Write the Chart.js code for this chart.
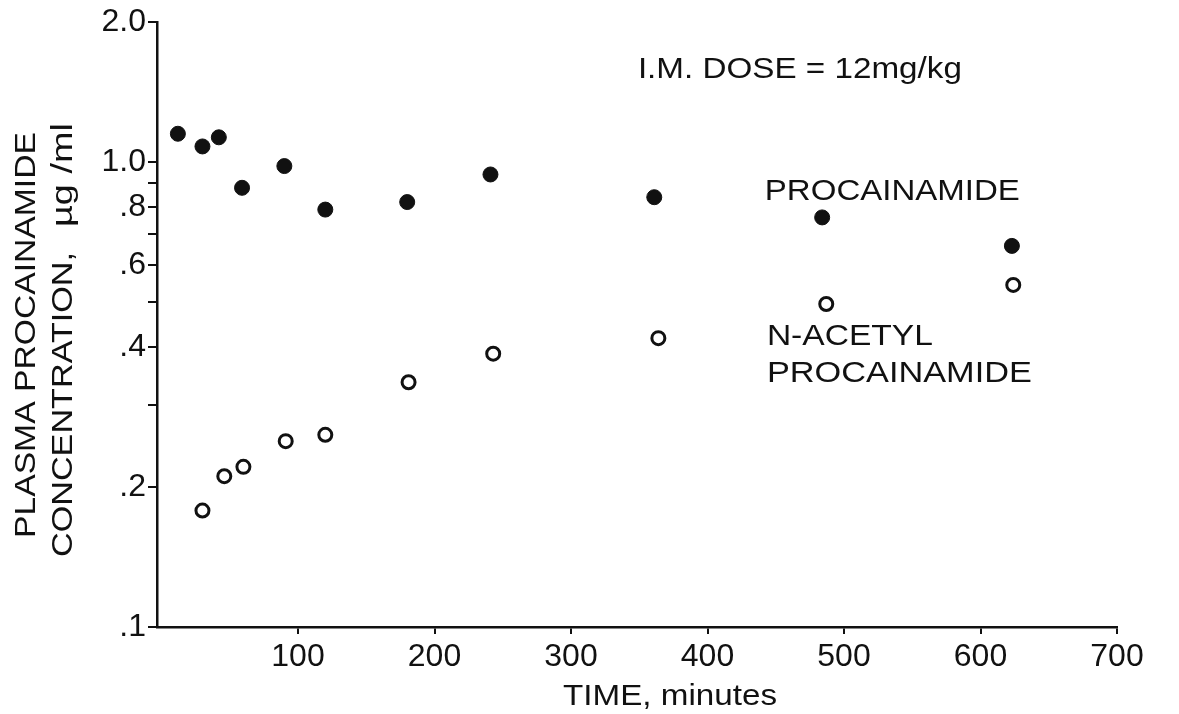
<!DOCTYPE html>
<html>
<head>
<meta charset="utf-8">
<script src="https://cdn.jsdelivr.net/npm/chart.js@4"></script>
<style>
  body { margin: 0; background: #fff; }
  #wrap { width: 1179px; height: 714px; }
</style>
</head>
<body>
<div id="wrap"><canvas id="pkChart" width="1179" height="714"></canvas></div>
<script>
// values (time in minutes, concentration in ug/ml)
const timesPA = [12, 30, 42, 59, 90, 120, 180, 241, 361, 484, 623];
const concPA = [1.15, 1.08, 1.13, 0.88, 0.98, 0.79, 0.82, 0.94, 0.84, 0.76, 0.66];
const timesNAPA = [30, 46, 60, 91, 120, 181, 243, 364, 487, 624];
const concNAPA = [0.178, 0.211, 0.221, 0.251, 0.259, 0.336, 0.387, 0.418, 0.495, 0.544];

const xTickValues = [100, 200, 300, 400, 500, 600, 700];
const yTickValues = [0.1, 0.2, 0.3, 0.4, 0.5, 0.6, 0.7, 0.8, 0.9, 1, 2];
const yTickLabels = { '0.1': '.1', '0.2': '.2', '0.4': '.4', '0.6': '.6', '0.8': '.8', '1.0': '1.0', '2.0': '2.0' };

// text written inside the plot, placed in data units
const notes = [
  { text: 'I.M. DOSE = 12mg/kg', x: 349, y: 1.516, width: 324, size: 29 },
  { text: 'PROCAINAMIDE', x: 442, y: 0.828, width: 255, size: 30 },
  { text: 'N-ACETYL', x: 443.5, y: 0.404, width: 166, size: 30 },
  { text: 'PROCAINAMIDE', x: 443.5, y: 0.3364, width: 265, size: 30 }
];

const FONT = '"Liberation Sans", Arial, sans-serif';
const INK = '#111';

function toPoints(xs, ys) {
  return xs.map((t, i) => ({ x: t, y: ys[i] }));
}

// draw text stretched to a given width (lettering in the original is wide)
function drawFit(ctx, text, x, y, width, size, angle) {
  ctx.save();
  ctx.font = size + 'px ' + FONT;
  const w = ctx.measureText(text).width;
  ctx.translate(x, y);
  if (angle) ctx.rotate(angle);
  ctx.scale(width / w, 1);
  ctx.textAlign = 'left';
  ctx.textBaseline = 'alphabetic';
  ctx.fillText(text, 0, 0);
  ctx.restore();
}

const figureText = {
  id: 'figureText',
  afterDraw(chart) {
    const ctx = chart.ctx;
    const xs = chart.scales.x;
    const ys = chart.scales.y;
    ctx.save();
    ctx.fillStyle = INK;
    notes.forEach(n => {
      drawFit(ctx, n.text, xs.getPixelForValue(n.x), ys.getPixelForValue(n.y), n.width, n.size);
    });
    // y axis title, two rotated lines
    drawFit(ctx, 'PLASMA PROCAINAMIDE', 35, 538, 406, 30, -Math.PI / 2);
    drawFit(ctx, 'CONCENTRATION,', 72, 557, 305, 30, -Math.PI / 2);
    drawFit(ctx, '\u00b5g /ml', 72, 227, 104, 30, -Math.PI / 2);
    // x axis title
    drawFit(ctx, 'TIME, minutes', 563, 705, 214, 30);
    ctx.restore();
  }
};

const ctx = document.getElementById('pkChart').getContext('2d');

new Chart(ctx, {
  type: 'scatter',
  data: {
    datasets: [
      {
        label: 'PROCAINAMIDE',
        data: toPoints(timesPA, concPA),
        pointRadius: 7.5,
        pointBackgroundColor: INK,
        pointBorderColor: INK,
        pointBorderWidth: 1
      },
      {
        label: 'N-ACETYL PROCAINAMIDE',
        data: toPoints(timesNAPA, concNAPA),
        pointRadius: 6.5,
        pointBackgroundColor: '#fff',
        pointBorderColor: INK,
        pointBorderWidth: 3
      }
    ]
  },
  options: {
    responsive: false,
    animation: false,
    layout: { padding: { top: 22, right: 62, left: 0, bottom: 0 } },
    plugins: {
      legend: { display: false },
      tooltip: { enabled: false }
    },
    scales: {
      x: {
        type: 'linear',
        min: -3.3,
        max: 700,
        afterBuildTicks: scale => { scale.ticks = xTickValues.map(v => ({ value: v })); },
        afterFit: scale => { scale.height = 87; },
        border: { display: true, color: INK, width: 2.5 },
        grid: { drawOnChartArea: false, drawTicks: true, tickLength: 7, color: INK, lineWidth: 2 },
        ticks: {
          color: INK,
          padding: 4,
          maxRotation: 0,
          font: { family: FONT, size: 32 }
        }
      },
      y: {
        type: 'logarithmic',
        min: 0.1,
        max: 2,
        afterBuildTicks: scale => { scale.ticks = yTickValues.map(v => ({ value: v })); },
        afterFit: scale => { scale.width = 157; },
        border: { display: true, color: INK, width: 2.5 },
        grid: { drawOnChartArea: false, drawTicks: true, tickLength: 9, color: INK, lineWidth: 2 },
        ticks: {
          color: INK,
          padding: 2,
          font: { family: FONT, size: 32 },
          callback: function(value) {
            const key = Number(value).toFixed(1);
            return yTickLabels[key] !== undefined ? yTickLabels[key] : '';
          }
        }
      }
    }
  },
  plugins: [figureText]
});
</script>
</body>
</html>
